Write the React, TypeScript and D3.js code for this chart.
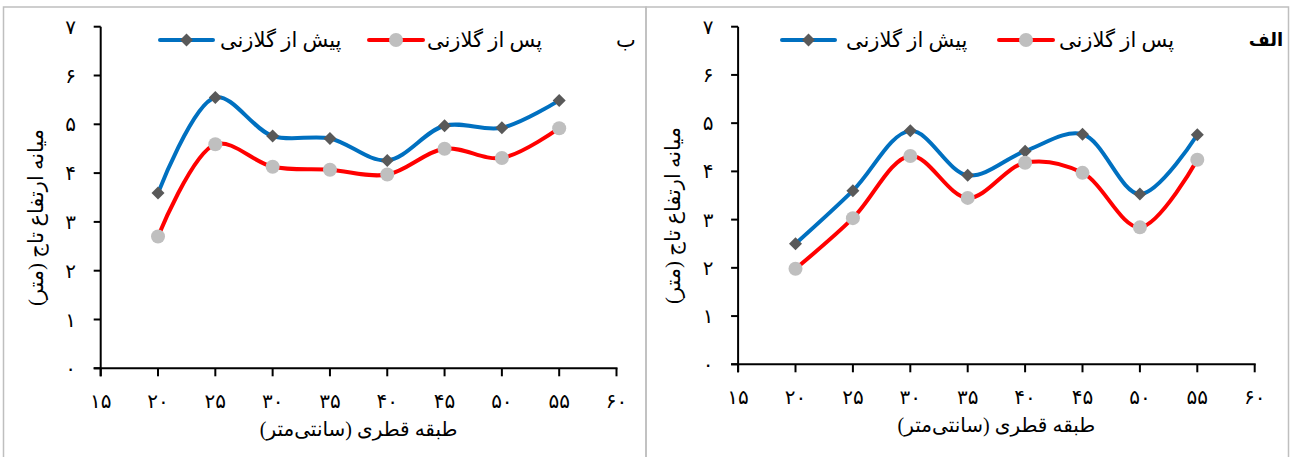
import { scaleLinear, line as d3line, curveCatmullRom } from "d3";

const FA_DIGITS = "۰۱۲۳۴۵۶۷۸۹";
const fa = (n: number) => String(n).replace(/\d/g, d => FA_DIGITS[+d]);

// diameter classes (cm)
const classes = [20, 25, 30, 35, 40, 45, 50, 55];
const xTicks = [15, 20, 25, 30, 35, 40, 45, 50, 55, 60];
const yTicks = [0, 1, 2, 3, 4, 5, 6, 7];

// panel "ب"
const beforeB = [3.59, 5.55, 4.76, 4.71, 4.26, 4.97, 4.93, 5.49];
const afterB = [2.70, 4.59, 4.13, 4.07, 3.97, 4.50, 4.31, 4.92];
// panel "الف"
const beforeA = [2.50, 3.60, 4.84, 3.92, 4.42, 4.77, 3.53, 4.76];
const afterA = [1.98, 3.03, 4.32, 3.45, 4.18, 3.97, 2.84, 4.24];

const seriesNames = ["پیش از گلازنی", "پس از گلازنی"];
const xTitle = "طبقه قطری (سانتی‌متر)";
const yTitle = "میانه ارتفاع تاج (متر)";

const BLUE = "#0070C0", RED = "#FF0000", DIAMOND = "#595959", CIRCLE = "#BFBFBF";
const FONT = "'Times New Roman', 'DejaVu Sans', serif";

interface PanelProps {
  x0: number; x1: number; y0: number; y1: number;
  before: number[]; after: number[]; label: string;
  box: [number, number]; legendX: number[]; labelX: number; bold?: boolean;
}

function Diamond({ cx, cy }: { cx: number; cy: number }) {
  const r = 6.5;
  return <path d={`M${cx},${cy - r}L${cx + r},${cy}L${cx},${cy + r}L${cx - r},${cy}Z`} fill={DIAMOND} />;
}

function Panel(p: PanelProps) {
  const sx = scaleLinear().domain([15, 60]).range([p.x0, p.x1]);
  const sy = scaleLinear().domain([0, 7]).range([p.y1, p.y0]);
  const mk = d3line<number>().x((_, i) => sx(classes[i])).y(d => sy(d)).curve(curveCatmullRom.alpha(0.5));
  const [bx0, bx1] = p.box;
  const ly = 40;
  const [lb0, lb1, lt0, lr0, lr1, lt1] = p.legendX;
  return (
    <g fontFamily={FONT}>
      <rect x={bx0} y={7} width={bx1 - bx0} height={470} fill="none" stroke="#bfbfbf" strokeWidth={1.5} />
      {/* axes */}
      <line x1={p.x0} x2={p.x0} y1={p.y0} y2={p.y1 + 8} stroke="#000" strokeWidth={2} />
      <line x1={p.x0 - 7} x2={p.x1 + 1} y1={p.y1} y2={p.y1} stroke="#000" strokeWidth={2} />
      {yTicks.map(t => (
        <g key={t}>
          <line x1={p.x0 - 7} x2={p.x0} y1={sy(t)} y2={sy(t)} stroke="#000" strokeWidth={2} />
          <text x={p.x0 - 30} y={sy(t)} textAnchor="middle" dominantBaseline="central" fontSize={20}>{fa(t)}</text>
        </g>
      ))}
      {xTicks.map(t => (
        <g key={t}>
          <line x1={sx(t)} x2={sx(t)} y1={p.y1} y2={p.y1 + 8} stroke="#000" strokeWidth={2} />
          <text x={sx(t)} y={p.y1 + 33} textAnchor="middle" dominantBaseline="central" fontSize={20}>{fa(t)}</text>
        </g>
      ))}
      <text x={(p.x0 + p.x1) / 2} y={p.y1 + 61} textAnchor="middle" dominantBaseline="central" fontSize={20} direction="rtl">{xTitle}</text>
      <text transform={`translate(${p.x0 - 65},${(p.y0 + p.y1) / 2 + 20}) rotate(-90)`} textAnchor="middle" dominantBaseline="central" fontSize={21} direction="rtl">{yTitle}</text>
      {/* series */}
      <path d={mk(p.before) ?? ""} fill="none" stroke={BLUE} strokeWidth={4} />
      <path d={mk(p.after) ?? ""} fill="none" stroke={RED} strokeWidth={4} />
      {p.before.map((v, i) => <Diamond key={i} cx={sx(classes[i])} cy={sy(v)} />)}
      {p.after.map((v, i) => <circle key={i} cx={sx(classes[i])} cy={sy(v)} r={7} fill={CIRCLE} />)}
      {/* legend */}
      <line x1={lb0} x2={lb1} y1={ly} y2={ly} stroke={BLUE} strokeWidth={4} strokeLinecap="round" />
      <Diamond cx={(lb0 + lb1) / 2} cy={ly} />
      <text x={lt0} y={ly} textAnchor="start" dominantBaseline="central" fontSize={21}>{seriesNames[0]}</text>
      <line x1={lr0} x2={lr1} y1={ly} y2={ly} stroke={RED} strokeWidth={4} strokeLinecap="round" />
      <circle cx={(lr0 + lr1) / 2} cy={ly} r={7} fill={CIRCLE} />
      <text x={lt1} y={ly} textAnchor="start" dominantBaseline="central" fontSize={21}>{seriesNames[1]}</text>
      <text x={p.labelX} y={ly} textAnchor="middle" dominantBaseline="central" fontSize={p.bold ? 18 : 21} fontWeight={p.bold ? "bold" : "normal"}>{p.label}</text>
    </g>
  );
}

export default function App() {
  return (
    <div style={{ position: "fixed", left: 0, top: 0 }}>
      <svg width={1292} height={457} style={{ display: "block", background: "#fff" }}>
        <Panel x0={100.7} x1={616.5} y0={26.7} y1={368.3} before={beforeB} after={afterB} label="ب"
          box={[3.5, 646]} legendX={[160, 213, 220, 369, 423, 427]} labelX={626} />
        <Panel x0={738.1} x1={1254.7} y0={26.7} y1={364.3} before={beforeA} after={afterA} label="الف"
          box={[646, 1288.5]} legendX={[782, 835, 846, 999, 1053, 1059]} labelX={1266} bold />
      </svg>
    </div>
  );
}
